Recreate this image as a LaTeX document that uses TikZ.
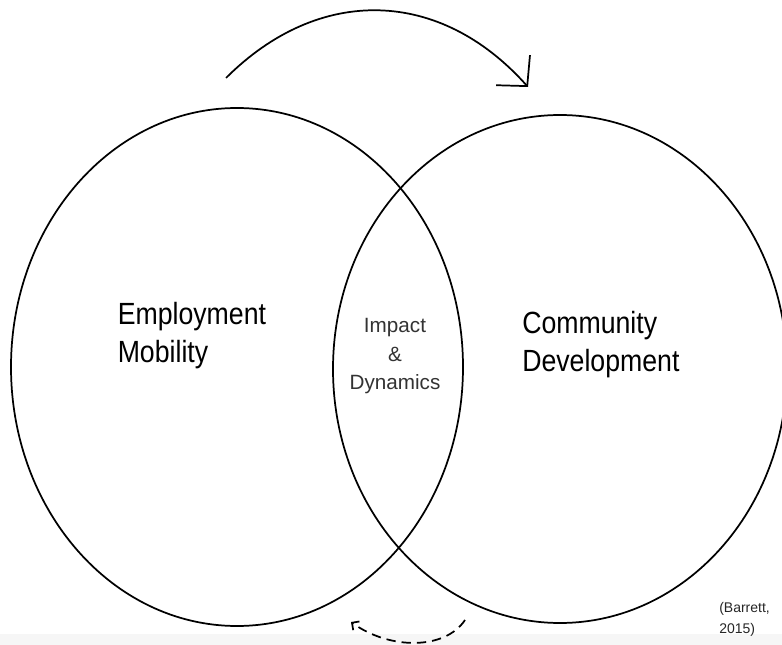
\documentclass[tikz,border=0pt]{standalone}
\usepackage{fontspec}
\setmainfont{Liberation Sans}
\newfontfamily\narrowsans{Liberation Sans}[FakeStretch=0.87]
\usetikzlibrary{arrows.meta}

\tikzset{
  circ/.style={line width=1.3pt},
  bigtxt/.style={inner sep=0pt, align=left, font=\narrowsans\fontsize{23}{28.5}\selectfont},
  midtxt/.style={inner sep=0pt, align=center, text=black!80, font=\fontsize{15.5}{21.4}\selectfont},
  citetxt/.style={inner sep=0pt, align=left, text=black!85, font=\fontsize{10.5}{16}\selectfont},
}

\begin{document}
\begin{tikzpicture}[x=0.75pt,y=0.75pt,yscale=-1,xscale=1]
%set diagram size: 782 x 645
\clip (0,0) rectangle (782,645);
\fill[white] (0,0) rectangle (782,645);
%Shape: Rectangle (faint strip at the bottom)
\fill [color={rgb, 255:red, 246; green, 246; blue, 246 }] (0,634) rectangle (782,645);

%Shape: Ellipse (left)
\draw [circ] (237,367) ellipse [x radius=226, y radius=259];
%Shape: Ellipse (right)
\draw [circ] (560,369) ellipse [x radius=227, y radius=254];

%Curve Lines: top arrow
\draw [line width=1.3pt, -{Straight Barb[length=16pt,width=34pt,line width=1.3pt]}]
  (226,78) .. controls (319,-15) and (440,-12) .. (528,87) ;
%Curve Lines: dashed arrow back
\draw [line width=1.3pt, dash pattern=on 7pt off 4.5pt, -{Straight Barb[length=4pt,width=8pt,line width=1.3pt]}]
  (465,620) .. controls (445,650) and (390,650) .. (351,622) ;

% Text Node
\node [bigtxt, anchor=north west] (empl) at (117.5,302) {Employment\\Mobility};
% Text Node
\node [bigtxt, anchor=north west] (comm) at (522,311) {Community\\Development};
% Text Node
\node [midtxt, anchor=north] (impact) at (395,318) {Impact\\\&\\Dynamics};
% Text Node
\node [citetxt, anchor=north west] (cite) at (719,602) {(Barrett,\\2015)};

\end{tikzpicture}
\end{document}
